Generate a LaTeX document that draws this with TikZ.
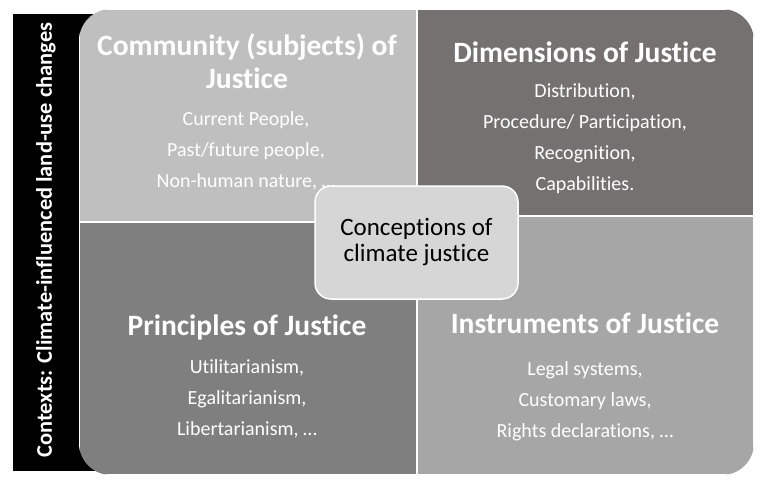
\documentclass[tikz,border=0pt]{standalone}
\usepackage{fontspec}
\setmainfont{Carlito}[Ligatures=NoCommon]
\usepackage{tikz}
\usetikzlibrary{
    positioning
}

\definecolor{quadA}{HTML}{BFBFBF}
\definecolor{quadB}{HTML}{767171}
\definecolor{quadC}{HTML}{7F7F7F}
\definecolor{quadD}{HTML}{A6A6A6}
\definecolor{hubfill}{HTML}{D6D6D6}

\begin{document}
\begin{tikzpicture}[
    x=1pt, y=-1pt,
    quadrant/.style={
        draw=white,
        line width=1.5pt
    },
    heading/.style={
        text=white,
        align=center,
        inner sep=0pt,
        anchor=base,
        font=\fontsize{29.5}{33}\selectfont\bfseries
    },
    entries/.style={
        text=white,
        align=center,
        inner sep=0pt,
        anchor=base,
        font=\fontsize{20}{31}\selectfont
    },
    hub/.style={
        draw=white,
        line width=1.5pt,
        fill=hubfill,
        rounded corners=16pt,
        minimum width=203pt,
        minimum height=113pt,
        align=center,
        font=\fontsize{25}{26}\selectfont
    }
]

\useasboundingbox (0,0) rectangle (768,483);

% context bar behind the quadrants
\fill[black] (13,14) rectangle (110,471);
\node[rotate=90, text=white, font=\fontsize{22.4}{26}\selectfont\bfseries] (context)
at (46,240) {Contexts: Climate-influenced land-use changes};

% the four quadrants
\begin{scope}
\clip[rounded corners=32pt] (79,9) rectangle (754,475);
\fill[quadrant, fill=quadA] (79,9) rectangle (417,222);
\fill[quadrant, fill=quadB] (417,9) rectangle (754,216);
\fill[quadrant, fill=quadC] (79,222) rectangle (417,475);
\fill[quadrant, fill=quadD] (417,216) rectangle (754,475);
\end{scope}

% base anchor sits on the last line
\node[heading] (community) at (247,88)
{Community (subjects) of\\Justice};
\node[entries] (communitylist) at (246,187)
{Current People,\\Past/future people,\\Non-human nature, \dots};

\node[heading] (dimensions) at (585,62) {Dimensions of Justice};
\node[entries] (dimensionslist) at (585,190)
{Distribution,\\Procedure/ Participation,\\Recognition,\\Capabilities.};

\node[heading] (principles) at (247,335) {Principles of Justice};
\node[entries] (principleslist) at (247,435)
{Utilitarianism,\\Egalitarianism,\\Libertarianism, \dots};

\node[heading] (instruments) at (585,333) {Instruments of Justice};
\node[entries] (instrumentslist) at (585,437)
{Legal systems,\\Customary laws,\\Rights declarations, \dots};

% centre box
\node[hub] (conceptions) at (416.5,242.5)
{Conceptions of\\climate justice};

\end{tikzpicture}
\end{document}
